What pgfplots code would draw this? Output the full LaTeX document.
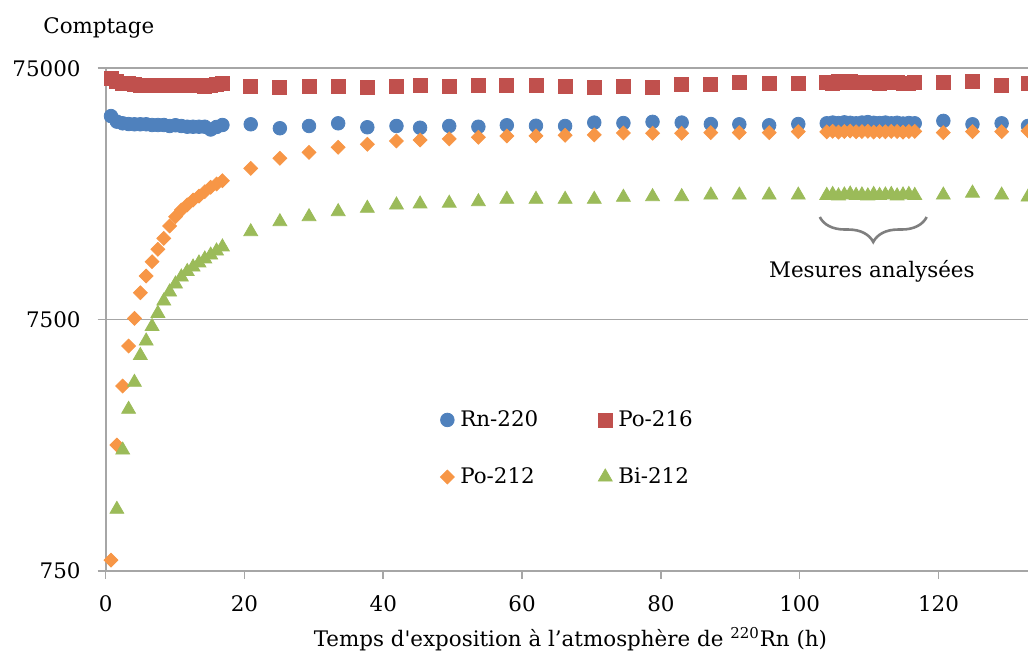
\documentclass[border=0pt]{standalone}
\usepackage{fontspec}
\setmainfont{DejaVu Serif}
\usepackage{pgfplots}
\pgfplotsset{compat=1.18}
\usepackage{pgfplotstable}
\usetikzlibrary{decorations.pathreplacing}
\definecolor{rnblue}{HTML}{4F81BD}
\definecolor{pored}{HTML}{C0504D}
\definecolor{poorange}{HTML}{F79646}
\definecolor{bigreen}{HTML}{9BBB59}
\definecolor{axgray}{HTML}{A6A6A6}
\definecolor{bracegray}{HTML}{7F7F7F}

% Rn-220
\pgfplotstableread{
x y
0.76 48400
1.61 46000
2.45 45300
3.30 45000
4.14 44900
4.99 44900
5.83 44900
6.68 44600
7.52 44600
8.37 44600
9.21 44200
10.06 44500
10.90 44200
11.75 43900
12.59 43900
13.44 43900
14.28 43900
15.13 42800
15.97 43800
16.82 44600
20.9 44900
25.1 43300
29.3 44200
33.5 45300
37.7 43700
41.9 44200
45.3 43500
49.5 44200
53.7 43900
57.8 44500
62.0 44300
66.2 44200
70.4 45600
74.6 45400
78.8 45900
83.0 45600
87.2 45000
91.3 44900
95.6 44500
99.8 45000
103.90 45300
104.75 45600
105.59 45400
106.44 45700
107.28 45500
108.13 45300
108.97 45600
109.82 45800
110.66 45500
111.51 45400
112.35 45600
113.20 45300
114.04 45500
114.89 45200
115.73 45400
116.58 45300
120.7 46300
124.9 44900
129.1 45300
132.9 44200
}\rntab

% Po-216
\pgfplotstableread{
x y
0.76 68400
1.61 66300
2.45 65400
3.30 65000
4.14 64500
4.99 64400
5.83 64200
6.68 64200
7.52 64000
8.37 64000
9.21 64200
10.06 64400
10.90 64400
11.75 64400
12.59 64200
13.44 64000
14.28 63600
15.13 64000
15.97 64800
16.82 65500
20.9 63400
25.1 62800
29.3 63600
33.5 63400
37.7 63000
41.9 63400
45.3 63900
49.5 63800
53.7 64200
57.8 64200
62.0 63900
66.2 63800
70.4 63000
74.6 63600
78.8 63000
83.0 64500
87.2 64500
91.3 65700
95.6 65000
99.8 65400
103.90 65700
104.75 65400
105.59 66200
106.44 66000
107.28 66200
108.13 65700
108.97 65700
109.82 65900
110.66 65700
111.51 65500
112.35 65700
113.20 65900
114.04 65700
114.89 65500
115.73 65400
116.58 65600
120.7 65700
124.9 66200
129.1 64400
132.9 65000
}\posixtab

% Po-212
\pgfplotstableread{
x y
0.76 829
1.61 2378
2.45 4082
3.30 5887
4.14 7590
4.99 9593
5.83 11183
6.68 12750
7.52 14280
8.37 15795
9.21 17685
10.06 19250
10.90 20470
11.75 21435
12.59 22430
13.44 23265
14.28 24210
15.13 25210
15.97 25980
16.82 26775
20.9 30000
25.1 32880
29.3 34720
33.5 36370
37.7 37390
41.9 38530
45.3 38890
49.5 39250
53.7 39860
57.8 40340
62.0 40340
66.2 40600
70.4 40720
74.6 41470
78.8 41360
83.0 41360
87.2 41590
91.3 41590
95.6 41590
99.8 41970
103.90 41900
104.75 42100
105.59 41800
106.44 42000
107.28 42200
108.13 41900
108.97 42000
109.82 42100
110.66 41800
111.51 42000
112.35 41900
113.20 42100
114.04 42000
114.89 41800
115.73 42000
116.58 42100
120.7 41590
124.9 41970
129.1 41970
132.9 42300
}\potwotab

% Bi-212
\pgfplotstableread{
x y
1.61 1319
2.45 2270
3.30 3297
4.14 4222
4.99 5398
5.83 6164
6.68 7040
7.52 7943
8.37 8893
9.21 9655
10.06 10390
10.90 11080
11.75 11650
12.59 12140
13.44 12600
14.28 13070
15.13 13550
15.97 14060
16.82 14590
20.9 16780
25.1 18390
29.3 19250
33.5 20160
37.7 20800
41.9 21430
45.3 21630
49.5 21780
53.7 22080
57.8 22580
62.0 22580
66.2 22580
70.4 22580
74.6 23000
78.8 23130
83.0 23130
87.2 23470
91.3 23470
95.6 23470
99.8 23470
103.90 23400
104.75 23600
105.59 23300
106.44 23500
107.28 23700
108.13 23400
108.97 23500
109.82 23300
110.66 23600
111.51 23400
112.35 23500
113.20 23600
114.04 23300
114.89 23500
115.73 23600
116.58 23400
120.7 23470
124.9 23900
129.1 23470
132.9 23050
}\bitab

\begin{document}
\fontsize{10.7pt}{13pt}\selectfont
\begin{tikzpicture}
\begin{axis}[
  name=ax,
  scale only axis,
  width=461.15pt, height=251.35pt,
  xmin=0, xmax=132.9,
  ymode=log, ymin=750, ymax=75000,
  axis x line=bottom, axis y line=left,
  axis line style={draw=axgray, line width=1pt, -},
  xtick={0,20,40,60,80,100,120},
  xticklabels={0,20,40,60,80,100,120},
  ytick={750,7500,75000},
  yticklabels={750,7500,75000},
  yminorticks=false,
  tick align=outside,
  major tick length=4pt,
  tick style={draw=axgray, line width=0.8pt},
  ymajorgrids,
  major grid style={draw=axgray, line width=0.8pt},
  yticklabel style={xshift=-4.8pt},
  xticklabel style={yshift=-4.5pt},
  legend columns=2,
  legend image code/.code={\draw[#1] plot coordinates {(0cm,0cm)};},
  legend style={draw=none, fill=none, at={(rel axis cs:0.356,0.2437)}, anchor=west,
    /tikz/every even column/.append style={column sep=28pt},
    /tikz/every odd column/.append style={column sep=1pt},
    row sep=15pt, nodes={inner sep=2pt}},
  legend cell align=left,
]
\addplot[only marks, mark=*, mark size=3.4pt, color=rnblue] table[x=x,y=y]{\rntab};
\addlegendentry{Rn-220}
\addplot[only marks, mark=square*, mark size=3.5pt, color=pored] table[x=x,y=y]{\posixtab};
\addlegendentry{Po-216}
\addplot[only marks, mark=square*, mark size=2.45pt, mark options={rotate=45}, color=poorange] table[x=x,y=y]{\potwotab};
\addlegendentry{Po-212}
\addplot[only marks, mark=triangle*, mark size=4pt, color=bigreen] table[x=x,y=y]{\bitab};
\addlegendentry{Bi-212}
\draw[decorate, decoration={brace, mirror, amplitude=12.5pt}, line width=1.3pt, bracegray] (axis cs:102.9,19200) -- (axis cs:118.3,19200);
\node[anchor=base] at (axis cs:110.4,11080) {Mesures analysées};
\end{axis}
\node[anchor=base west, inner sep=0pt] at ([xshift=-31.35pt,yshift=17.5pt]ax.north west) {Comptage};
\node[anchor=base] at ([xshift=1.8pt,yshift=-37.85pt]ax.south) {Temps d\textquotesingle exposition à l’atmosphère de \textsuperscript{220}Rn (h)};
\pgfresetboundingbox
\path ([xshift=-52.85pt,yshift=-40.5pt]ax.south west) rectangle ([yshift=34.15pt]ax.north east);
\end{tikzpicture}
\end{document}
